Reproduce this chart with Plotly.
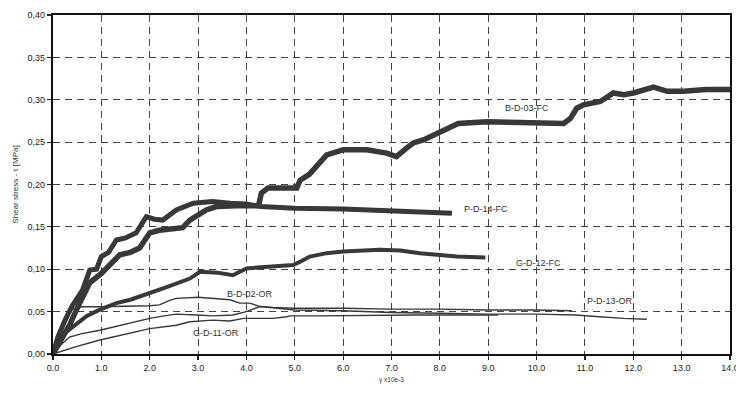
import plotly.graph_objects as go

# ---- data ----
bd03_x = [0, 0.15, 0.35, 0.55, 0.76, 1.0, 1.13, 1.38, 1.6, 1.79, 2.0, 2.2, 2.68, 2.83, 3.17, 3.38, 3.8, 4.25,
          4.31, 4.45, 5.04, 5.11, 5.3, 5.45, 5.66, 6.0, 6.49, 6.9, 7.1, 7.31, 7.45, 7.66, 8.0, 8.38, 8.97, 10.0,
          10.56, 10.7, 10.83, 10.97, 11.32, 11.59, 11.8, 12.0, 12.2, 12.42, 12.7, 13.04, 13.5, 14.0]
bd03_y = [0, 0.015, 0.035, 0.06, 0.084, 0.095, 0.103, 0.117, 0.12, 0.125, 0.143, 0.146, 0.149, 0.158, 0.17, 0.174,
          0.175, 0.175, 0.19, 0.196, 0.196, 0.205, 0.212, 0.221, 0.235, 0.241, 0.241, 0.237, 0.233, 0.243, 0.249,
          0.2525, 0.262, 0.272, 0.274, 0.273, 0.272, 0.278, 0.29, 0.294, 0.298, 0.308, 0.306, 0.308, 0.311, 0.315,
          0.31, 0.31, 0.312, 0.312]

pd14_x = [0, 0.1, 0.25, 0.4, 0.61, 0.76, 0.9, 1.0, 1.15, 1.31, 1.5, 1.72, 1.93, 2.1, 2.27, 2.55, 2.9, 3.3,
          3.66, 4.0, 4.3, 5.0, 6.0, 7.0, 7.5, 8.0, 8.25]
pd14_y = [0, 0.02, 0.04, 0.057, 0.0755, 0.099, 0.10, 0.115, 0.12, 0.1345, 0.137, 0.143, 0.162, 0.159, 0.158,
          0.17, 0.178, 0.18, 0.178, 0.177, 0.174, 0.172, 0.171, 0.169, 0.168, 0.167, 0.166]

gd12_x = [0, 0.07, 0.25, 0.48, 0.7, 0.96, 1.31, 1.6, 2.0, 2.35, 2.83, 3.04, 3.4, 3.72, 4.0, 4.5, 4.97, 5.15,
          5.31, 5.66, 6.0, 6.76, 7.18, 7.59, 8.0, 8.35, 8.94]
gd12_y = [0, 0.0126, 0.025, 0.036, 0.045, 0.052, 0.06, 0.064, 0.0716, 0.079, 0.089, 0.097, 0.096, 0.093, 0.101,
          0.103, 0.105, 0.11, 0.115, 0.119, 0.121, 0.123, 0.122, 0.119, 0.117, 0.115, 0.114]

bd02_x = [0, 0.1, 0.2, 0.34, 0.61, 0.96, 1.5, 2.0, 2.2, 2.4, 2.55, 3.0, 3.66, 3.86, 4.07, 4.28, 4.55, 5.0,
          6.0, 7.0, 8.0, 9.0, 10.0, 10.73]
bd02_y = [0, 0.02, 0.038, 0.052, 0.0558, 0.0558, 0.056, 0.057, 0.058, 0.063, 0.0657, 0.067, 0.064, 0.06, 0.06,
          0.056, 0.055, 0.054, 0.054, 0.053, 0.053, 0.052, 0.052, 0.051]

pd13_x = [0, 0.15, 0.34, 0.6, 0.97, 1.25, 1.52, 2.0, 2.3, 2.55, 2.97, 3.3, 3.72, 4.0, 4.28, 4.6, 5.0, 6.0,
          7.0, 8.0, 9.0, 10.0, 10.8, 11.3, 11.8, 12.28]
pd13_y = [0, 0.01, 0.02, 0.024, 0.028, 0.032, 0.036, 0.042, 0.045, 0.047, 0.046, 0.045, 0.046, 0.05, 0.056,
          0.054, 0.052, 0.051, 0.049, 0.048, 0.047, 0.047, 0.046, 0.044, 0.042, 0.041]

gd11_x = [0, 0.2, 0.48, 0.97, 1.52, 2.0, 2.55, 2.83, 3.31, 3.66, 3.94, 4.55, 4.83, 4.9, 5.5, 6.76, 7.5, 8.5, 9.2]
gd11_y = [0, 0.004, 0.0087, 0.0165, 0.024, 0.030, 0.034, 0.038, 0.040, 0.039, 0.042, 0.042, 0.044, 0.045,
          0.045, 0.046, 0.046, 0.046, 0.046]

x_ticks = [0, 1, 2, 3, 4, 5, 6, 7, 8, 9, 10, 11, 12, 13, 14]
x_ticktext = ["0.0", "1.0", "2.0", "3.0", "4.0", "5.0", "6.0", "7.0", "8.0", "9.0", "10.0", "11.0", "12.0",
              "13.0", "14.0"]
y_ticks = [0, 0.05, 0.10, 0.15, 0.20, 0.25, 0.30, 0.35, 0.40]
y_ticktext = ["0,00", "0,05", "0,10", "0,15", "0,20", "0,25", "0,30", "0,35", "0,40"]

labels = ["B-D-03-FC", "P-D-14-FC", "G-D-12-FC", "B-D-02-OR", "P-D-13-OR", "G-D-11-OR"]
label_x = [9.8, 8.96, 10.03, 4.07, 11.52, 3.38]
label_y = [0.29, 0.171, 0.107, 0.071, 0.062, 0.025]

# ---- figure ----
FONT = "Liberation Sans, Arial, sans-serif"
fig = go.Figure()
series = [
    (bd03_x, bd03_y, 5.5, "B-D-03-FC"),
    (pd14_x, pd14_y, 5.0, "P-D-14-FC"),
    (gd12_x, gd12_y, 4.0, "G-D-12-FC"),
    (bd02_x, bd02_y, 1.4, "B-D-02-OR"),
    (pd13_x, pd13_y, 1.4, "P-D-13-OR"),
    (gd11_x, gd11_y, 1.4, "G-D-11-OR"),
]
for xs, ys, w, name in series:
    fig.add_trace(go.Scatter(x=xs, y=ys, mode="lines", name=name,
                             line=dict(color="#383838", width=w),
                             showlegend=False, hoverinfo="skip"))

for t, lx, ly in zip(labels, label_x, label_y):
    fig.add_annotation(x=lx, y=ly, text=t, showarrow=False,
                       font=dict(family=FONT, size=9, color="#333"))

axis_common = dict(
    showline=True, linecolor="#111", linewidth=2.2, mirror=True,
    showgrid=True, gridcolor="#444", gridwidth=1.1, griddash="7px,5px",
    ticks="outside", ticklen=4, tickcolor="#222", tickwidth=1.2,
    zeroline=False, automargin=False, ticklabeloverflow="allow",
    tickfont=dict(family=FONT, size=9, color="#222"),
)

fig.update_xaxes(range=[0, 14], tickvals=x_ticks, ticktext=x_ticktext,
                 title=dict(text="γ x10e-3", font=dict(size=6.5, color="#333", family=FONT), standoff=6),
                 **axis_common)
fig.update_yaxes(range=[0, 0.4], tickvals=y_ticks, ticktext=y_ticktext,
                 title=dict(text="Shear stress - τ [MPa]", font=dict(size=8, color="#333", family=FONT),
                            standoff=8),
                 **axis_common)

fig.update_layout(
    template="none",
    width=736, height=399,
    margin=dict(l=53, r=6, t=15, b=45),
    paper_bgcolor="white", plot_bgcolor="white",
    showlegend=False,
)

fig.write_html("out.html", config={"displayModeBar": False, "staticPlot": True},
               post_script="document.body.style.margin='0';document.body.style.overflow='hidden';")
